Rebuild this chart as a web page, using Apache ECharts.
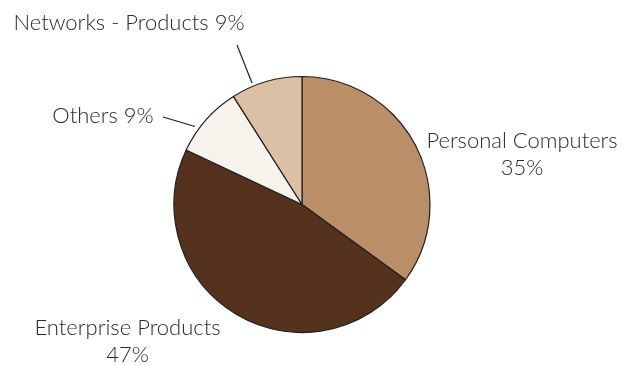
<!DOCTYPE html>
<html>
<head>
<meta charset="utf-8">
<script src="https://cdn.jsdelivr.net/npm/echarts@6/dist/echarts.min.js"></script>
<style>
  html, body { margin: 0; padding: 0; background: #ffffff; }
  #chart { width: 622px; height: 365px; }
</style>
</head>
<body>
<div id="chart"></div>
<script>
// Revenue share by business segment
const categories = ['Personal Computers', 'Enterprise Products', 'Others', 'Networks - Products'];
const shares = [35, 47, 9, 9];
const sliceColors = ['#BA8E67', '#55321D', '#F7F2EB', '#DBC0A6'];

// Label placement (text-block centre) and optional leader line points
const labelSpots = [
  { x: 522, y: 154.5, twoLine: true },
  { x: 127.5, y: 341.5, twoLine: true },
  { x: 103, y: 116, twoLine: false, line: [[195, 126.5], [179, 121.7], [163, 117]] },
  { x: 129, y: 23, twoLine: false, line: [[252, 83], [244.5, 64], [237, 45]] }
];

const FONT = 'Lato, "Open Sans", sans-serif';

const chart = echarts.init(document.getElementById('chart'), null, { renderer: 'canvas' });

const data = categories.map((name, i) => ({
  name: name,
  value: shares[i],
  itemStyle: { color: sliceColors[i] },
  label: {
    formatter: labelSpots[i].twoLine ? '{b}\n{c}%' : '{b} {c}%'
  },
  labelLine: { show: !!labelSpots[i].line }
}));

chart.setOption({
  animation: false,
  backgroundColor: '#ffffff',
  series: [{
    type: 'pie',
    center: [302, 204.5],
    radius: 128,
    startAngle: 90,
    clockwise: true,
    data: data,
    itemStyle: { borderColor: '#231F20', borderWidth: 1.2 },
    label: {
      show: true,
      position: 'outside',
      color: '#2a2a2a',
      fontFamily: FONT,
      fontSize: 22,
      fontWeight: 300,
      lineHeight: 27,
      align: 'center',
      overflow: 'none'
    },
    labelLine: {
      show: false,
      lineStyle: { color: '#231F20', width: 1.2 }
    },
    emphasis: { disabled: true },
    labelLayout: function (params) {
      const spot = labelSpots[params.dataIndex];
      const out = { x: spot.x, y: spot.y, align: 'center', verticalAlign: 'middle' };
      if (spot.line) out.labelLinePoints = spot.line;
      return out;
    }
  }]
});
</script>
</body>
</html>
